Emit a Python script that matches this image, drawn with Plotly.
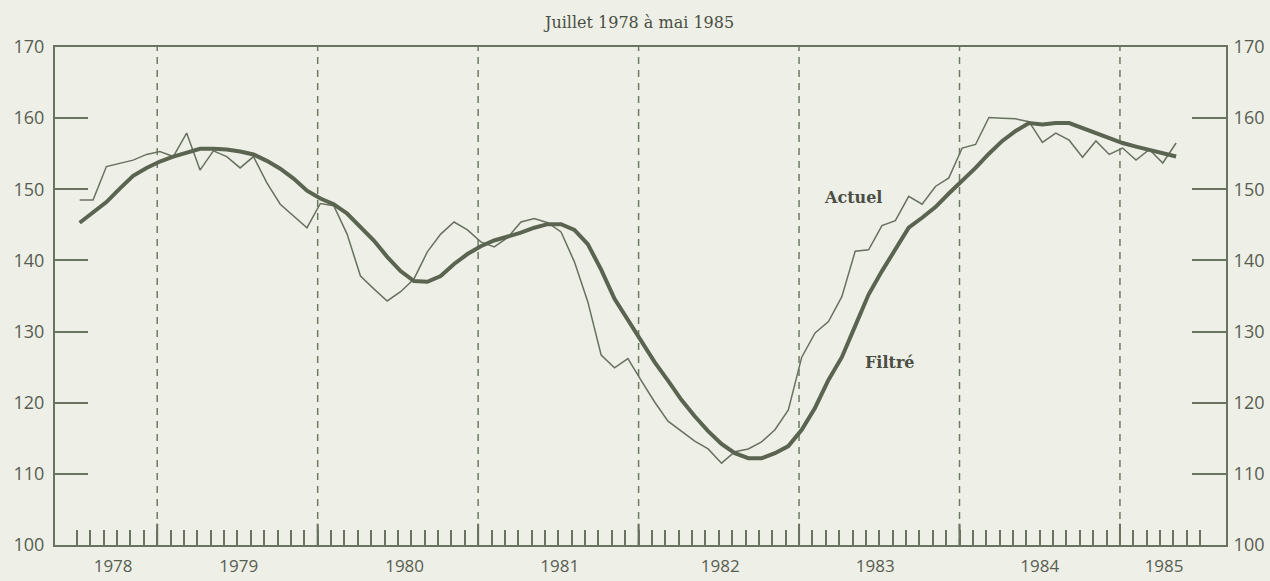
import plotly.graph_objects as go

# Monthly data, July 1978 (index 0) to May 1985 (index 82)
start_year, start_month = 1978, 7
actuel = [148.5, 148.5, 153.2, 153.7, 154.1, 154.9, 155.3, 154.6, 157.9, 152.7,
          155.4, 154.6, 153.0, 154.6, 150.9, 147.9, 146.3, 144.6, 148.0, 147.7,
          143.7, 137.8, 136.0, 134.3, 135.6, 137.4, 141.2, 143.7, 145.4, 144.3,
          142.6, 141.9, 143.2, 145.4, 145.9, 145.3, 144.0, 139.8, 134.2, 126.7,
          124.9, 126.2, 123.1, 120.1, 117.4, 116.0, 114.6, 113.5, 111.5, 113.1,
          113.5, 114.5, 116.2, 119.0, 126.4, 129.8, 131.4, 134.9, 141.3, 141.5,
          144.9, 145.6, 149.0, 147.9, 150.4, 151.6, 155.8, 156.3, 160.1, 160.0,
          159.9, 159.5, 156.6, 157.9, 156.9, 154.5, 156.8, 154.9, 155.8, 154.1,
          155.6, 153.7, 156.5]
filtre = [145.3, 146.7, 148.2, 150.1, 151.9, 153.0, 153.9, 154.6, 155.2, 155.7,
          155.7, 155.6, 155.3, 154.9, 154.0, 152.9, 151.5, 149.8, 148.7, 147.9,
          146.6, 144.7, 142.8, 140.5, 138.5, 137.1, 137.0, 137.8, 139.5, 140.9,
          142.0, 142.8, 143.3, 143.9, 144.6, 145.1, 145.1, 144.3, 142.3, 138.7,
          134.6, 131.6, 128.8, 125.7, 123.1, 120.4, 118.1, 116.0, 114.2, 112.9,
          112.2, 112.2, 112.9, 113.9, 116.2, 119.3, 123.2, 126.4, 130.8, 135.2,
          138.5, 141.6, 144.6, 146.0, 147.5, 149.4, 151.2, 153.0, 155.0, 156.8,
          158.2, 159.3, 159.1, 159.3, 159.3, 158.6, 157.9, 157.2, 156.5, 156.0,
          155.5, 155.1, 154.6]
years = ["1978", "1979", "1980", "1981", "1982", "1983", "1984", "1985"]
y_ticks = [100, 110, 120, 130, 140, 150, 160, 170]
title_text = "Juillet 1978 à mai 1985"

BG = "#eef0e7"
AX = "#6a735f"
LINE = "#5b6351"
TXT = "#585d52"

def month_index(year, month):
    return (year - start_year) * 12 + (month - start_month)

xs = [i + 0.2 for i in range(len(actuel))]
jan_idx = [month_index(int(y), 1) for y in years[1:]]
label_pos = [2.7, 12.1, 24.5, 36.1, 48.1, 59.7, 72.0, 81.3]
month_ticks = list(range(0, month_index(1985, 7) + 1))

fig = go.Figure()
fig.add_trace(go.Scatter(x=xs, y=actuel, mode="lines", name="Actuel",
                         line=dict(color="#687160", width=1.5), showlegend=False))
fig.add_trace(go.Scatter(x=xs, y=filtre, mode="lines", name="Filtré",
                         line=dict(color=LINE, width=4), showlegend=False))
fig.add_trace(go.Scatter(x=[xs[0]], y=[filtre[0]], yaxis="y2", mode="lines",
                         line=dict(width=0), showlegend=False, hoverinfo="skip"))

for j in jan_idx:
    fig.add_shape(type="line", x0=j, x1=j, y0=100, y1=170, xref="x", yref="y",
                  line=dict(color="#6f7a63", width=1.5, dash="7px,6px"), layer="below")
    fig.add_shape(type="line", x0=j, x1=j, y0=100, y1=103, xref="x", yref="y",
                  line=dict(color=AX, width=2))

tickfont = dict(family="Open Sans, Noto Sans, sans-serif", size=18, color=TXT)
xtickfont = dict(family="Open Sans, Noto Sans, sans-serif", size=17, color=TXT)
serif = "DejaVu Serif, serif"

fig.update_layout(
    width=1270, height=581,
    margin=dict(l=55, r=44, t=47, b=36, autoexpand=False),
    paper_bgcolor=BG, plot_bgcolor=BG,
    xaxis=dict(range=[-1.645, 85.93], showgrid=False, zeroline=False, automargin=False,
               showline=True, linecolor=AX, linewidth=2, mirror=True,
               tickmode="array", tickvals=label_pos, ticktext=years,
               ticks="", ticklabelstandoff=5, tickfont=xtickfont,
               minor=dict(tickmode="array", tickvals=month_ticks, ticks="inside",
                          ticklen=15, tickwidth=2, tickcolor=AX, showgrid=False)),
    yaxis=dict(range=[100, 170], showgrid=False, zeroline=False, automargin=False,
               showline=True, linecolor=AX, linewidth=2,
               tickmode="array", tickvals=y_ticks, ticks="inside",
               ticklen=33, tickwidth=2, tickcolor=AX, tickfont=tickfont,
               ticklabelstandoff=5),
    yaxis2=dict(range=[100, 170], overlaying="y", side="right", showgrid=False,
                zeroline=False, showline=True, linecolor=AX, linewidth=2, automargin=False,
                tickmode="array", tickvals=y_ticks, ticks="inside",
                ticklen=34, tickwidth=2, tickcolor=AX, tickfont=tickfont,
                ticklabelstandoff=2),
    annotations=[
        dict(text=title_text, xref="paper", yref="paper", x=0.498, y=1.05,
             showarrow=False, xanchor="center", yanchor="middle",
             font=dict(family=serif, size=16, color="#4a4e44")),
        dict(text="<b>Actuel</b>", xref="x", yref="y", x=58.0, y=148.8,
             showarrow=False, xanchor="center", yanchor="middle",
             font=dict(family=serif, size=16, color="#4a4e44")),
        dict(text="<b>Filtré</b>", xref="x", yref="y", x=60.8, y=125.7,
             showarrow=False, xanchor="center", yanchor="middle",
             font=dict(family=serif, size=16, color="#4a4e44")),
    ],
)

fig.write_html("out.html", config={"displayModeBar": False},
               post_script="document.body.style.margin='0';")
